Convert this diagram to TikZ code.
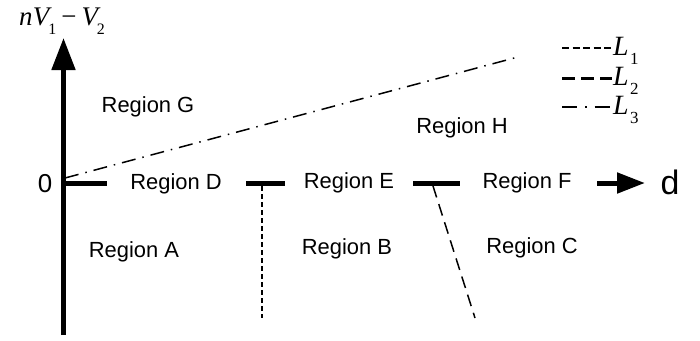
\documentclass[tikz,border=0pt]{standalone}
\usepackage{fontspec}
\setmainfont{Liberation Sans}
\newfontfamily\tms{Liberation Serif}
\usetikzlibrary{arrows.meta}
\newcommand{\sbs}[1]{\raisebox{-0.32em}{\fontsize{16}{16}\selectfont\upshape #1}}
\newcommand{\Lsub}[1]{{\tms\fontsize{28}{30}\selectfont\itshape L\kern1.5bp\raisebox{-0.3em}{\fontsize{17}{17}\selectfont\upshape #1}}}
\begin{document}
\begin{tikzpicture}[x=1bp,y=-1bp,
  reg/.style={font=\fontsize{22}{26}\selectfont, inner sep=0pt},
  seg/.style={line width=5bp},
  lone/.style={line width=1.4bp, dash pattern=on 4.5bp off 3.5bp},
  ltwo/.style={line width=1.5bp, dash pattern=on 12bp off 7bp},
  lthree/.style={line width=1.5bp, dash pattern=on 14bp off 7bp on 1.5bp off 7bp},
  legone/.style={line width=2bp, dash pattern=on 7bp off 3.5bp},
  legtwo/.style={line width=3bp, dash pattern=on 13bp off 6bp},
  legthree/.style={line width=2.2bp, dash pattern=on 15bp off 8bp on 1.5bp off 8bp},
  leglab/.style={anchor=west, inner sep=0pt}]
\useasboundingbox (0,0) rectangle (700,340);
% axes
\coordinate (O) at (63.5,183);
\coordinate (ybot) at (63.5,335);
\coordinate (ytop) at (63.5,38);
\draw[line width=5bp, -{Triangle[width=23bp,length=32bp]}] (ybot) -- (ytop);
\coordinate (s1e) at (107,183);
\coordinate (s2a) at (246,183);
\coordinate (s2b) at (285,183);
\coordinate (s3a) at (413,183);
\coordinate (s3b) at (460,183);
\coordinate (xa) at (597,183);
\coordinate (xtip) at (645,183);
\draw[seg] (O) -- (s1e);
\draw[seg] (s2a) -- (s2b);
\draw[seg] (s3a) -- (s3b);
\draw[line width=5bp, -{Triangle[width=20bp,length=28bp]}] (xa) -- (xtip);
% axis labels
\node[inner sep=0pt, font=\fontsize{26}{30}\selectfont] (zero) at (45,184) {0};
\node[inner sep=0pt, font=\fontsize{34}{38}\selectfont] (dlab) at (670,182) {d};
\node[inner sep=0pt] (ylab) at (62,21) {\tms\fontsize{27}{30}\selectfont\itshape n\kern0.5bp V\kern-1bp\sbs{1}\kern5bp{\upshape −}\kern5bp V\kern-1bp\sbs{2}};
% boundary lines
\coordinate (l1a) at (262,186);
\coordinate (l1b) at (262,318);
\coordinate (l2a) at (433,186);
\coordinate (l2b) at (475,318);
\coordinate (l3a) at (65,178);
\coordinate (l3b) at (518,57);
\draw[lone] (l1a) -- (l1b);
\draw[ltwo] (l2a) -- (l2b);
\draw[lthree] (l3a) -- (l3b);
% regions
\node[reg] (rG) at (148,107) {Region G};
\node[reg] (rH) at (462,128) {Region H};
\node[reg] (rD) at (176,184) {Region D};
\node[reg] (rE) at (349,183) {Region E};
\node[reg] (rF) at (527,183) {Region F};
\node[reg] (rA) at (134,252) {Region A};
\node[reg] (rB) at (347,249) {Region B};
\node[reg] (rC) at (532,248) {Region C};
% legend
\coordinate (g1a) at (562,48); \coordinate (g1b) at (612,48);
\coordinate (g2a) at (562,78); \coordinate (g2b) at (612,78);
\coordinate (g3a) at (562,107); \coordinate (g3b) at (612,107);
\draw[legone] (g1a) -- (g1b);
\draw[legtwo] (g2a) -- (g2b);
\draw[legthree] (g3a) -- (g3b);
\node[leglab] (t1) at (613,51) {\Lsub{1}};
\node[leglab] (t2) at (613,81) {\Lsub{2}};
\node[leglab] (t3) at (613,110) {\Lsub{3}};
\end{tikzpicture}
\end{document}
